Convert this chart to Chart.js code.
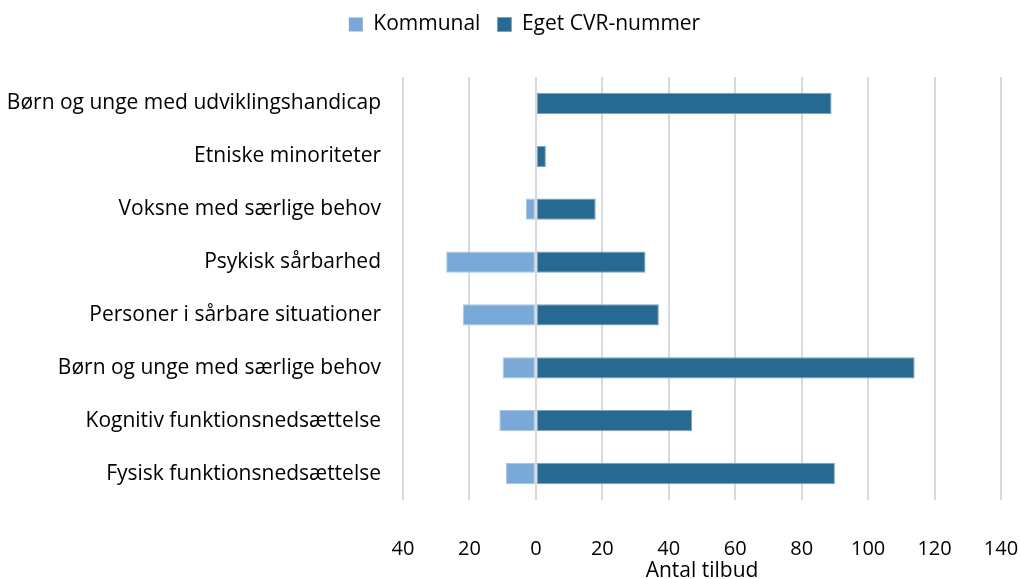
<!DOCTYPE html>
<html>
<head>
<meta charset="utf-8">
<script src="https://cdn.jsdelivr.net/npm/chart.js@4"></script>
<style>
  html, body { margin: 0; padding: 0; background: #fff; }
  #wrap { width: 1020px; height: 579px; }
</style>
</head>
<body>
<div id="wrap"><canvas id="dashboard"></canvas></div>
<script>
const categories = [
    'Børn og unge med udviklingshandicap',
    'Etniske minoriteter',
    'Voksne med særlige behov',
    'Psykisk sårbarhed',
    'Personer i sårbare situationer',
    'Børn og unge med særlige behov',
    'Kognitiv funktionsnedsættelse',
    'Fysisk funktionsnedsættelse'
];
// Kommunal is drawn to the left of zero
const kommunal = [0, 0, -3, -27, -22, -10, -11, -9];
const egetCvr = [89, 3, 18, 33, 37, 114, 47, 90];
const xMin = -40;
const xMax = 140;
const xStep = 20;

const Dashboard = document.getElementById('dashboard');
const fontFamily = '"Open Sans", Lato, sans-serif';
const textSize = 21;
const tickSize = 20;
Chart.defaults.font.family = fontFamily;
Chart.defaults.color = '#000';

// push the plot down below the legend, and nudge the legend to the right
const legendGap = {
    id: 'legendGap',
    beforeInit(chart) {
        const fit = chart.legend.fit;
        chart.legend.fit = function () {
            fit.bind(chart.legend)();
            this.height += 32;
        };
    },
    afterLayout(chart) {
        chart.legend.left += 48;
    }
};

const edge = ctx => ctx.raw === 0 ? 0 : 1;

new Chart(Dashboard, {
    type: 'bar',
    data: {
        labels: categories,
        datasets: [{
            label: 'Kommunal',
            data: kommunal,
            backgroundColor: '#79a9d8',
            borderColor: '#a8c8e6',
            borderWidth: edge,
            borderSkipped: false
        },
        {
            label: 'Eget CVR-nummer',
            data: egetCvr,
            backgroundColor: '#266a93',
            borderColor: '#7aa4c0',
            borderWidth: edge,
            borderSkipped: false
        }]
    },
    options: {
        indexAxis: 'y',
        responsive: true,
        maintainAspectRatio: false,
        animation: false,
        layout: { padding: { top: -3, right: 19, left: 0, bottom: 0 } },
        datasets: {
            bar: { categoryPercentage: 1, barPercentage: 0.4 }
        },
        plugins: {
            legend: {
                position: 'top',
                labels: {
                    boxWidth: 14,
                    boxHeight: 14,
                    padding: 17,
                    font: { size: textSize },
                    color: '#000'
                }
            },
            tooltip: {
                callbacks: {
                    label: ctx => ctx.dataset.label + ': ' + Math.abs(ctx.raw)
                }
            }
        },
        scales: {
            x: {
                stacked: true,
                min: xMin,
                max: xMax,
                ticks: {
                    stepSize: xStep,
                    padding: 37,
                    font: { size: tickSize },
                    color: '#000',
                    callback: v => Math.abs(v)
                },
                grid: { color: '#d9d9d9', lineWidth: 2, drawTicks: false },
                border: { display: false },
                title: {
                    display: true,
                    text: 'Antal tilbud',
                    font: { size: textSize },
                    color: '#000',
                    padding: { top: 1, bottom: -5 }
                },
                afterFit: scale => {
                    scale.height = 79;
                    scale.paddingLeft = 0;
                    scale.paddingRight = 0;
                }
            },
            y: {
                stacked: true,
                ticks: {
                    padding: 22,
                    font: { size: textSize },
                    color: '#000'
                },
                grid: { display: false, drawTicks: false },
                border: { display: false },
                afterFit: scale => { scale.width = 403; }
            }
        }
    },
    plugins: [legendGap]
});
</script>
</body>
</html>
